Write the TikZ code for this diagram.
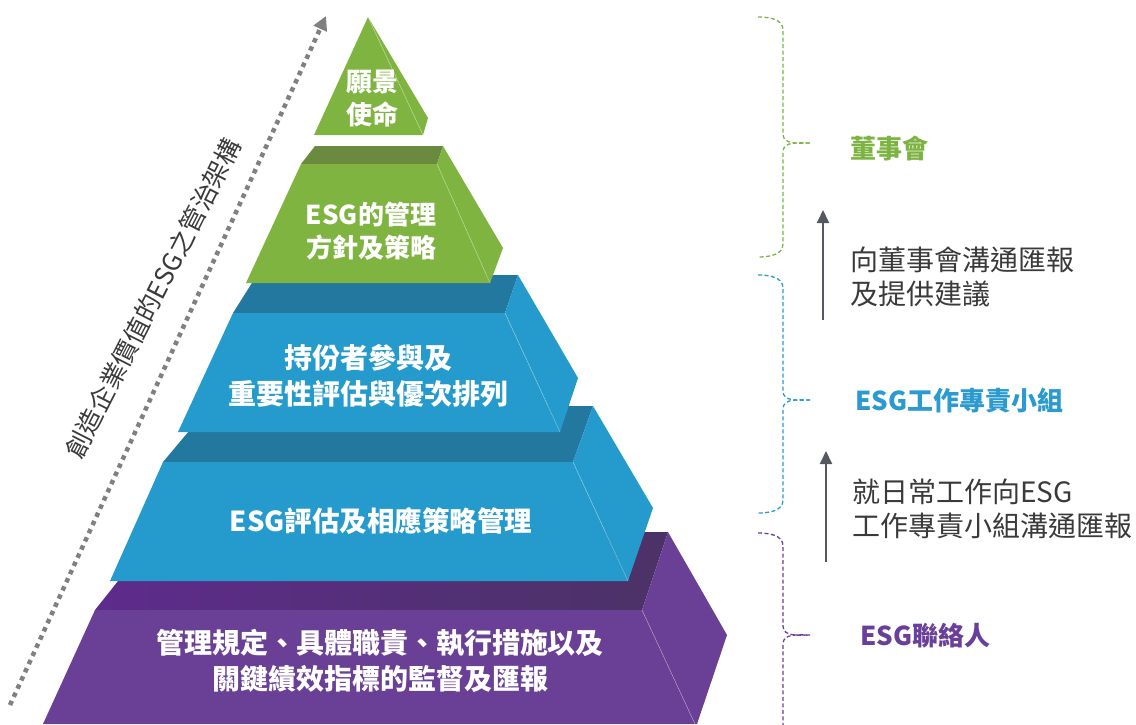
\documentclass[tikz,border=0pt]{standalone}
\usepackage{fontspec}
\setmainfont{Noto Sans CJK TC}
\usetikzlibrary{arrows.meta}
\definecolor{gfront}{HTML}{80B441}
\definecolor{gtop}{HTML}{6A8B3F}
\definecolor{bfront}{HTML}{259BCD}
\definecolor{btop}{HTML}{2378A0}
\definecolor{pfront}{HTML}{6A4096}
\definecolor{ptopA}{HTML}{5E2C8C}
\definecolor{ptopB}{HTML}{4B3266}
\definecolor{lgreen}{HTML}{7DB342}
\definecolor{lblue}{HTML}{2A9AD0}
\definecolor{lpurple}{HTML}{6A3F9A}
\definecolor{textgray}{HTML}{3A3A3A}
\definecolor{arrowgray}{HTML}{55585E}
\definecolor{dotgray}{HTML}{808080}
\begin{document}
\begin{tikzpicture}[x=1pt,y=-1pt,
  tiertext/.style={text=white, font=\fontsize{26}{33}\selectfont\bfseries, align=center, inner sep=0pt},
  bigtiertext/.style={tiertext, font=\fontsize{28}{36}\selectfont\bfseries},
  sidelabel/.style={font=\fontsize{26}{30}\selectfont\bfseries, anchor=west, inner sep=0pt},
  note/.style={text=textgray, font=\fontsize{28}{34}\selectfont, align=left, anchor=west, inner sep=0pt},
  flowarrow/.style={draw=arrowgray, line width=2pt, -{Triangle[length=13pt,width=12pt]}},
  bracepath/.style={dash pattern=on 4pt off 2.5pt, line width=1.3pt},
  edge/.style={draw=white, draw opacity=0.35, line width=0.6pt},
  dotline/.style={draw=dotgray, line width=4.5pt, dash pattern=on 4.5pt off 4.5pt, -{Triangle[length=14pt,width=14pt]}}
]
\useasboundingbox (0,0) rectangle (1136,724);
\clip (0,0) rectangle (1136,724);

% ---------- tier 5 (purple) ----------
\shade[left color=ptopA, right color=ptopB] (157,532) -- (668,532) -- (642,610) -- (95,610) -- cycle;
\fill[pfront] (95,610) -- (642,610) -- (695,724) -- (43,724) -- cycle;
\fill[pfront] (642,610) -- (668,532) -- (727,635) -- (697,724) -- (695,724) -- cycle;
\draw[edge] (642,610) -- (695,724);

% ---------- tier 4 (blue) ----------
\fill[btop] (210,406) -- (593,406) -- (573,462) -- (163,462) -- cycle;
\fill[bfront] (163,462) -- (573,462) -- (628,581) -- (110,581) -- cycle;
\fill[bfront] (573,462) -- (593,406) -- (653,508) -- (628,581) -- cycle;
\draw[edge] (573,462) -- (628,581);

% ---------- tier 3 (blue) ----------
\fill[btop] (257,275) -- (518,275) -- (505,313) -- (233,313) -- cycle;
\fill[bfront] (233,313) -- (505,313) -- (560,432) -- (178,432) -- cycle;
\fill[bfront] (505,313) -- (518,275) -- (578,378) -- (560,432) -- cycle;
\draw[edge] (505,313) -- (560,432);

% ---------- tier 2 (green) ----------
\fill[gtop] (315,146) -- (443,146) -- (437,164) -- (301,164) -- cycle;
\fill[gfront] (301,164) -- (437,164) -- (490,283) -- (246,283) -- cycle;
\fill[gfront] (437,164) -- (443,146) -- (503,248) -- (490,283) -- cycle;
\draw[edge] (437,164) -- (490,283);

% ---------- tier 1 (green triangle) ----------
\fill[gfront] (368,17) -- (423,135) -- (314,135) -- cycle;
\fill[gfront] (368,17) -- (428,118) -- (423,135) -- cycle;
\draw[edge] (368,17) -- (423,135);

% ---------- tier texts ----------
\node[tiertext] (t1) at (372,98) {願景\\使命};
\node[tiertext] (t2) at (371,231) {ESG的管理\\方針及策略};
\node[bigtiertext] (t3) at (368,376) {持份者參與及\\重要性評估與優次排列};
\node[tiertext, font=\fontsize{27.5}{34}\selectfont\bfseries] (t4) at (381,521) {ESG評估及相應策略管理};
\node[bigtiertext] (t5) at (380,661) {管理規定、具體職責、執行措施以及\\關鍵績效指標的監督及匯報};

% ---------- dotted axis ----------
\coordinate (dotA) at (10,705);
\coordinate (dotB) at (326,16);
\draw[dotline] (dotA) -- (dotB);
\node[rotate=63, text=textgray, font=\fontsize{25.5}{30}\selectfont, inner sep=0pt] (axis) at (153,298) {創造企業價值的ESG之管治架構};

% ---------- braces ----------
\draw[bracepath, lgreen] (758,17) to[out=0,in=90] (783,30) -- (783,134) to[out=-90,in=180] (810,143);
\draw[bracepath, lgreen] (810,143) to[out=180,in=90] (783,152) -- (783,244) to[out=-90,in=0] (758,257);
\draw[bracepath, lblue] (758,275) to[out=0,in=90] (783,288) -- (783,391) to[out=-90,in=180] (810,400);
\draw[bracepath, lblue] (810,400) to[out=180,in=90] (783,409) -- (783,500) to[out=-90,in=0] (758,513);
\draw[bracepath, lpurple] (758,533) to[out=0,in=90] (783,546) -- (783,626) to[out=-90,in=180] (810,635);
\draw[bracepath, lpurple] (810,635) to[out=180,in=90] (783,644) -- (783,740);

% ---------- labels ----------
\node[sidelabel, text=lgreen] (board) at (850,149) {董事會};
\node[sidelabel, text=lblue] (group) at (855,401) {ESG工作專責小組};
\node[sidelabel, text=lpurple] (contact) at (860,636) {ESG聯絡人};

% ---------- report arrows ----------
\coordinate (a1s) at (823,320);
\coordinate (a1e) at (823,210);
\draw[flowarrow] (a1s) -- (a1e);
\coordinate (a2s) at (826,562);
\coordinate (a2e) at (826,451);
\draw[flowarrow] (a2s) -- (a2e);

\node[note] (n1) at (850,277) {向董事會溝通匯報\\及提供建議};
\node[note] (n2) at (852,509) {就日常工作向ESG\\工作專責小組溝通匯報};
\end{tikzpicture}
\end{document}
